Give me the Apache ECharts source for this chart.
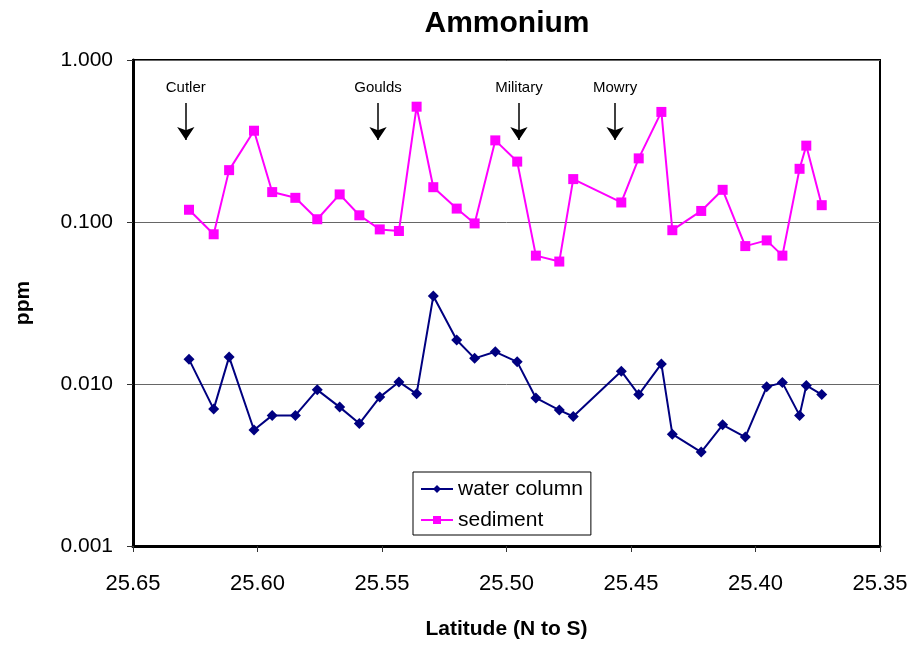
<!DOCTYPE html>
<html>
<head>
<meta charset="utf-8">
<script src="https://cdn.jsdelivr.net/npm/echarts@6/dist/echarts.min.js"></script>
<style>
  html, body { margin: 0; padding: 0; background: #fff; }
  #chart { width: 919px; height: 646px; }
</style>
</head>
<body>
<div id="chart"></div>
<script>
// Sampling stations, latitude (degrees N), listed north to south
const latitude = [25.6275, 25.6176, 25.6114, 25.6014, 25.5941, 25.5848, 25.5760, 25.5670,
  25.5591, 25.5509, 25.5432, 25.5361, 25.5294, 25.5200, 25.5128, 25.5045,
  25.4957, 25.4882, 25.4788, 25.4732, 25.4539, 25.4469, 25.4378, 25.4334,
  25.4218, 25.4132, 25.4041, 25.3955, 25.3892, 25.3823, 25.3796, 25.3734];

// Ammonium concentration, ppm
const waterColumn = [0.0142, 0.0070, 0.0147, 0.0052, 0.0064, 0.0064, 0.0092, 0.0072,
  0.0057, 0.0083, 0.0103, 0.0087, 0.0349, 0.0187, 0.0144, 0.0158,
  0.0137, 0.0082, 0.0069, 0.0063, 0.0120, 0.0086, 0.0133, 0.0049,
  0.0038, 0.0056, 0.0047, 0.0096, 0.0102, 0.0064, 0.0098, 0.0086];

const sediment = [0.119, 0.084, 0.209, 0.366, 0.153, 0.141, 0.104, 0.148,
  0.110, 0.090, 0.088, 0.515, 0.164, 0.121, 0.098, 0.319,
  0.236, 0.062, 0.057, 0.184, 0.132, 0.247, 0.478, 0.089,
  0.117, 0.158, 0.071, 0.077, 0.062, 0.213, 0.296, 0.127];

// Canal landmarks marked with arrows along the transect
const landmarkNames = ['Cutler', 'Goulds', 'Military', 'Mowry'];
const landmarkLat = [25.6288, 25.5516, 25.4950, 25.4564];
const arrowTop = 0.543;
const arrowBottom = 0.321;

const FONT = 'Liberation Sans, Arial, sans-serif';

const pairs = (xs, ys) => xs.map((x, i) => [x, ys[i]]);

const chart = echarts.init(document.getElementById('chart'), null, { renderer: 'canvas' });

chart.setOption({
  animation: false,
  backgroundColor: '#fff',
  title: {
    text: 'Ammonium',
    left: 507,
    top: 9,
    padding: 0,
    textAlign: 'center',
    textStyle: { fontFamily: FONT, fontSize: 30, fontWeight: 'bold', color: '#000' }
  },
  grid: {
    left: 133, right: 39, top: 60, bottom: 100,
    show: true, borderColor: '#000', borderWidth: 2, backgroundColor: '#fff'
  },
  legend: {
    data: ['water column', 'sediment'],
    orient: 'vertical',
    left: 413, top: 472,
    padding: [6, 8, 4, 7],
    itemWidth: 32, itemHeight: 10, itemGap: 9,
    borderColor: '#000', borderWidth: 1, backgroundColor: '#fff',
    textStyle: { fontFamily: FONT, fontSize: 21, color: '#000', lineHeight: 22 }
  },
  xAxis: {
    type: 'value',
    inverse: true,
    min: 25.35, max: 25.65, interval: 0.05,
    name: 'Latitude (N to S)',
    nameLocation: 'middle',
    nameGap: 73,
    nameTextStyle: { fontFamily: FONT, fontSize: 21, fontWeight: 'bold', color: '#000' },
    axisLine: { show: true, onZero: false, lineStyle: { color: '#000', width: 3 } },
    axisTick: { show: true, inside: false, length: 6, lineStyle: { color: '#333', width: 1 } },
    axisLabel: {
      fontFamily: FONT, fontSize: 22, color: '#000', margin: 27,
      formatter: v => v.toFixed(2)
    },
    splitLine: { show: false }
  },
  yAxis: {
    type: 'log',
    logBase: 10,
    min: 0.001, max: 1,
    name: 'ppm',
    nameLocation: 'middle',
    nameGap: 99,
    nameRotate: 90,
    nameTextStyle: { fontFamily: FONT, fontSize: 21, fontWeight: 'bold', color: '#000' },
    axisLine: { show: true, lineStyle: { color: '#000', width: 3 } },
    axisTick: { show: true, inside: false, length: 6, lineStyle: { color: '#333', width: 1 } },
    axisLabel: {
      fontFamily: FONT, fontSize: 21, color: '#000', margin: 20,
      formatter: v => v.toFixed(3)
    },
    splitLine: { show: true, lineStyle: { color: '#666', width: 1 } }
  },
  series: [
    {
      name: 'water column',
      type: 'line',
      data: pairs(latitude, waterColumn),
      symbol: 'diamond',
      symbolSize: 11,
      lineStyle: { color: '#000080', width: 2 },
      itemStyle: { color: '#000080' },
      z: 3
    },
    {
      name: 'sediment',
      type: 'line',
      data: pairs(latitude, sediment),
      symbol: 'rect',
      symbolSize: 10,
      lineStyle: { color: '#ff00ff', width: 2 },
      itemStyle: { color: '#ff00ff' },
      z: 3
    },
    {
      name: 'landmarks',
      type: 'line',
      data: [],
      markLine: {
        silent: true,
        symbol: ['none', 'arrow'],
        symbolSize: 13,
        lineStyle: { color: '#000', width: 1.5, type: 'solid' },
        label: {
          show: true,
          position: 'start',
          distance: 8,
          fontFamily: FONT, fontSize: 15, color: '#000'
        },
        data: landmarkNames.map((name, i) => [
          { coord: [landmarkLat[i], arrowTop], name: name, label: { formatter: name } },
          { coord: [landmarkLat[i], arrowBottom] }
        ])
      }
    }
  ]
});
</script>
</body>
</html>
